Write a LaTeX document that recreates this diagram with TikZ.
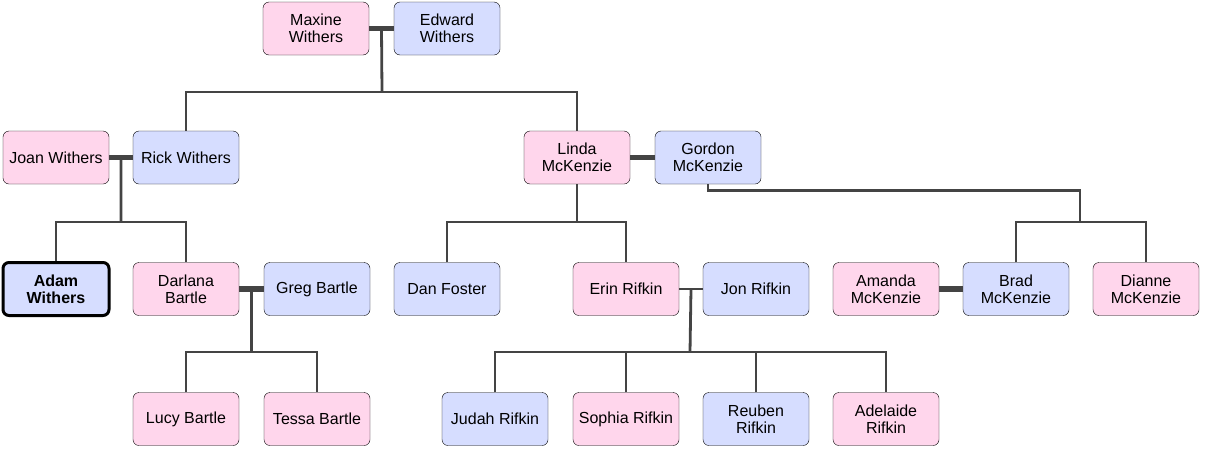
\documentclass[tikz,border=0pt]{standalone}
\usepackage{fontspec}
\setmainfont{Liberation Sans}
\usetikzlibrary{calc}
\definecolor{girl}{HTML}{FFD6EC}
\definecolor{boy}{HTML}{D6DDFF}
\definecolor{wire}{HTML}{444444}
\begin{document}
\begin{tikzpicture}[x=1pt, y=-1pt,
  person/.style={draw=black, rounded corners=6pt, minimum width=106pt, minimum height=53pt,
    align=center, inner sep=2pt, font=\fontsize{16}{17}\selectfont},
  female/.style={person, fill=girl},
  male/.style={person, fill=boy},
  link/.style={draw=wire, line width=2.8pt},
  wed/.style={draw=wire, line width=5.5pt}]
  \useasboundingbox (0,0) rectangle (1206,453);
  % grandparents
  \node[female] (maxine) at (316,28.5) {Maxine\\Withers};
  \node[male] (edward) at (447,28.5) {Edward\\Withers};
  % parents
  \node[female] (joan) at (56,157.5) {Joan Withers};
  \node[male] (rick) at (186,157.5) {Rick Withers};
  \node[female] (linda) at (577,157.5) {Linda\\McKenzie};
  \node[male] (gordon) at (708,157.5) {Gordon\\McKenzie};
  % children
  \node[male, line width=3pt, font=\fontsize{16}{17}\selectfont\bfseries] (adam) at (56,289) {Adam\\Withers};
  \node[female] (darlana) at (186,289) {Darlana\\Bartle};
  \node[male] (greg) at (317,289) {Greg Bartle};
  \node[male] (dan) at (447,289) {Dan Foster};
  \node[female] (erin) at (626,289) {Erin Rifkin};
  \node[male] (jon) at (756,289) {Jon Rifkin};
  \node[female] (amanda) at (886,289) {Amanda\\McKenzie};
  \node[male] (brad) at (1016,289) {Brad\\McKenzie};
  \node[female] (dianne) at (1146,289) {Dianne\\McKenzie};
  % grandchildren
  \node[female] (lucy) at (186,419) {Lucy Bartle};
  \node[female] (tessa) at (317,419) {Tessa Bartle};
  \node[male] (judah) at (495,419) {Judah Rifkin};
  \node[female] (sophia) at (626,419) {Sophia Rifkin};
  \node[male] (reuben) at (756,419) {Reuben\\Rifkin};
  \node[female] (adelaide) at (886,419) {Adelaide\\Rifkin};
  % couples
  \draw[wed] (maxine.east) -- (edward.west);
  \draw[wed] (joan.east) -- (rick.west);
  \draw[wed] (linda.east) -- (gordon.west);
  \draw[wed] (darlana.east) -- (greg.west);
  \draw[link] (erin.east) -- (jon.west);
  \draw[wed] (amanda.east) -- (brad.west);
  % Withers line
  \coordinate (mw) at ($(maxine.east)!.5!(edward.west)$);
  \coordinate (mwkids) at (382,92);
  \draw[link] (mw) -- (mwkids);
  \draw[link] (rick.north) |- (mwkids) -| (linda.north);
  \coordinate (jr) at ($(joan.east)!.5!(rick.west)$);
  \coordinate (jrkids) at (121,222);
  \draw[link] (jr) -- (jrkids);
  \draw[link] (adam.north) |- (jrkids) -| (darlana.north);
  \coordinate (dg) at ($(darlana.east)!.5!(greg.west)$);
  \coordinate (dgkids) at (251.5,352);
  \draw[link] (dg) -- (dgkids);
  \draw[link] (lucy.north) |- (dgkids) -| (tessa.north);
  % McKenzie line
  \coordinate (lkids) at (577,222);
  \draw[link] (linda.south) -- (lkids);
  \draw[link] (dan.north) |- (lkids) -| (erin.north);
  \coordinate (gkids) at (1080,222);
  \draw[link] (gordon.south) -- ++(0,6) -| (gkids);
  \draw[link] (brad.north) |- (gkids) -| (dianne.north);
  % Rifkin line
  \coordinate (ej) at ($(erin.east)!.5!(jon.west)$);
  \coordinate (ejkids) at (690,352);
  \draw[link] (ej) -- (ejkids);
  \draw[link] (judah.north) |- (ejkids) -| (adelaide.north);
  \draw[link] (sophia.north) -- (sophia.north |- ejkids);
  \draw[link] (reuben.north) -- (reuben.north |- ejkids);
\end{tikzpicture}
\end{document}
